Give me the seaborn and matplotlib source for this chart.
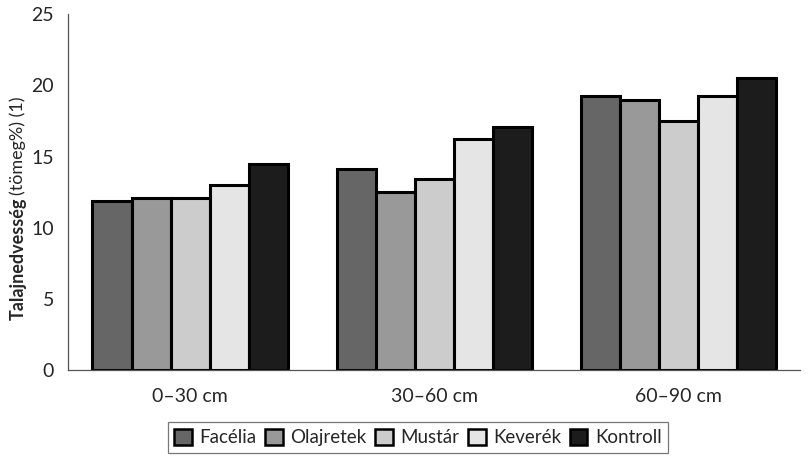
import matplotlib
matplotlib.use('Agg')
import matplotlib.pyplot as plt
import seaborn as sns
import pandas as pd
from matplotlib.patches import Patch

# adatok
melyseg = ['0–30 cm', '30–60 cm', '60–90 cm']
kezeles = ['Facélia', 'Olajretek', 'Mustár', 'Keverék', 'Kontroll']
facelia = [11.9, 14.1, 19.25]
olajretek = [12.1, 12.5, 19.0]
mustar = [12.1, 13.4, 17.5]
keverek = [13.0, 16.2, 19.25]
kontroll = [14.5, 17.1, 20.5]
szinek = ['#666666', '#999999', '#cccccc', '#e5e5e5', '#1c1c1c']

ertekek = [facelia, olajretek, mustar, keverek, kontroll]
rows = []
for k, vals in zip(kezeles, ertekek):
    for m, v in zip(melyseg, vals):
        rows.append({'melyseg': m, 'kezeles': k, 'ertek': v})
df = pd.DataFrame(rows)

sns.set_style('white')
plt.rcParams['font.family'] = ['Lato', 'DejaVu Sans']

fig = plt.figure(figsize=(8.1, 4.57), dpi=100)
ax = fig.add_axes([0.084, 0.19, 0.904, 0.779])

sns.barplot(data=df, x='melyseg', y='ertek', hue='kezeles', order=melyseg,
            hue_order=kezeles, palette=szinek, edgecolor='black', linewidth=2.2,
            width=0.8, ax=ax, legend=False)

ax.set_xlim(-0.5, 2.5)
ax.set_ylim(0, 25)
ax.set_yticks([0, 5, 10, 15, 20, 25])
ax.set_xlabel('')
ax.set_ylabel('')
ax.set_xticks([0, 1, 2])
ax.set_xticklabels(melyseg)
ax.set_xticks([-0.5, 0.5, 1.5, 2.5], minor=True)
ax.tick_params(axis='x', which='major', length=0, labelsize=14, pad=13)
ax.tick_params(axis='x', which='minor', length=6, width=0.8, color='#555555', direction='out')
ax.tick_params(axis='y', length=6, width=0.8, color='#555555', direction='out', labelsize=14, pad=4)
sns.despine(ax=ax)
for s in ['left', 'bottom']:
    ax.spines[s].set_color('#555555')
    ax.spines[s].set_linewidth(0.9)

# y tengely felirat: félkövér + normál rész
t1 = fig.text(0.022, 0.30, 'Talajnedvesség', rotation=90, fontsize=13,
              fontweight='bold', ha='center', va='bottom')
fig.canvas.draw()
bb = t1.get_window_extent().transformed(fig.transFigure.inverted())
fig.text(0.022, bb.y1 + 0.006, '(tömeg%) (1)', rotation=90, fontsize=13,
         ha='center', va='bottom')

handles = [Patch(facecolor=c, edgecolor='black', linewidth=1.8) for c in szinek]
leg = fig.legend(handles, kezeles, loc='upper center', bbox_to_anchor=(0.516, 0.076),
                 ncol=5, frameon=True, fancybox=False, fontsize=13.5,
                 handlelength=0.95, handleheight=0.95, handletextpad=0.4,
                 columnspacing=0.45, borderpad=0.35, borderaxespad=0)
leg.get_frame().set_edgecolor('#555555')
leg.get_frame().set_linewidth(0.9)

fig.savefig('out.png', dpi=100)
